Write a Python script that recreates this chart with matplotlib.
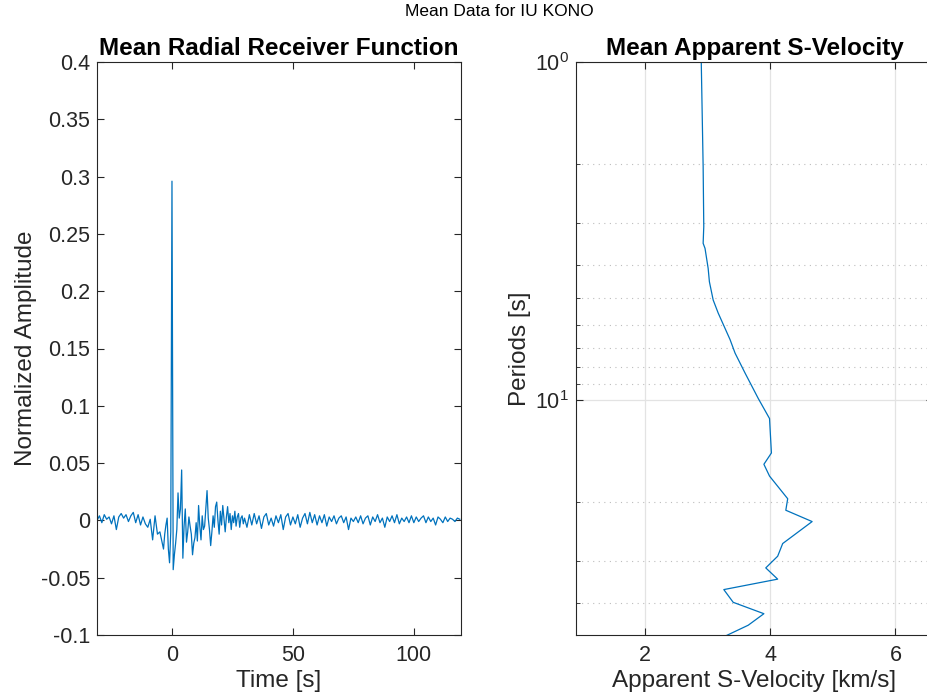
import numpy as np
import matplotlib
matplotlib.use("Agg")
import matplotlib.pyplot as plt
from matplotlib.ticker import LogLocator, NullFormatter

plt.rcParams['font.family'] = ['Liberation Sans', 'DejaVu Sans']
plt.rcParams['axes.unicode_minus'] = False

# ── data: mean radial receiver function ─────────────────────────────────────
# before the direct P (1 s samples)
rf_time_pre = np.arange(-31, -5, 1.0)
rf_amp_pre = [0.000, 0.004, -0.002, 0.005, 0.001, 0.003, -0.003, 0.004, -0.008, 0.003,
              0.006, 0.002, 0.005, -0.001, 0.004, 0.007, -0.002, 0.005, -0.004, 0.003,
              -0.003, -0.006, 0.001, -0.017, 0.004, -0.012]

# direct P and early coda (0.5 s samples)
rf_time_main = np.arange(-5, 30.5, 0.5)
rf_amp_main = [-0.010, -0.015, -0.020, -0.025, -0.012, -0.004, 0.002, -0.025, -0.037, -0.010,
               0.296, -0.043, -0.030, -0.020, -0.008, 0.024, 0.002, 0.010, 0.044, -0.033,
               -0.005, 0.010, -0.019, -0.010, 0.003, -0.005, -0.012, -0.030, -0.020, -0.015,
               -0.002, -0.018, 0.013, -0.005, -0.017, 0.004, -0.008, -0.005, 0.010, 0.026,
               0.002, -0.008, -0.022, -0.010, 0.004, -0.006, 0.012, 0.016, 0.000, -0.012,
               0.008, -0.004, 0.013, 0.002, -0.010, 0.003, 0.012, -0.002, 0.006, -0.008,
               0.004, -0.002, 0.008, -0.005, 0.003, 0.006, -0.006, 0.002, 0.004, -0.003,
               0.002]

# late coda (1 s samples)
rf_time_tail = np.arange(31, 120, 1.0)
rf_amp_tail = [-0.006, 0.005, -0.004, 0.006, -0.003, 0.004, -0.007, 0.003, 0.006, -0.004,
               0.002, -0.005, 0.004, -0.002, 0.005, -0.008, 0.003, 0.006, -0.004, 0.003,
               -0.003, 0.005, -0.006, 0.002, 0.006, -0.003, 0.007, -0.002, 0.005, -0.004,
               0.004, -0.002, 0.005, -0.005, 0.003, -0.001, 0.004, -0.003, 0.002, 0.004,
               -0.002, 0.003, -0.008, 0.002, -0.001, 0.003, -0.002, 0.004, -0.003, 0.002,
               0.004, -0.004, 0.003, -0.001, 0.005, -0.002, 0.002, -0.006, 0.003, -0.001,
               0.004, -0.002, 0.005, -0.003, 0.002, -0.001, 0.003, -0.002, 0.004, -0.002,
               0.003, -0.001, 0.002, 0.004, -0.002, 0.003, -0.001, 0.002, -0.004, 0.003,
               0.001, -0.002, 0.003, -0.001, 0.002, 0.001, -0.001, 0.002, 0.001]

rf_time = np.concatenate([rf_time_pre, rf_time_main, rf_time_tail])
rf_amp = np.concatenate([rf_amp_pre, rf_amp_main, rf_amp_tail])

# ── data: mean apparent S-velocity ──────────────────────────────────────────
periods = [1.0, 2.04, 3.07, 3.44, 3.56, 4.08, 4.47, 5.06, 5.53, 6.63, 7.27, 8.33, 9.9,
           11.35, 14.35, 15.5, 16.8, 19.6, 21.2, 22.9, 26.6, 29.0, 31.4, 33.9, 36.4,
           39.7, 42.9, 46.4, 49.8]
vs_app = [2.90, 2.93, 2.94, 2.93, 2.96, 3.01, 3.03, 3.09, 3.17, 3.36, 3.44, 3.60, 3.81,
          3.99, 4.02, 3.90, 3.99, 4.28, 4.25, 4.67, 4.20, 4.12, 3.93, 4.12, 3.26,
          3.41, 3.90, 3.65, 3.30]

rf_yticks = [-0.1, -0.05, 0, 0.05, 0.1, 0.15, 0.2, 0.25, 0.3, 0.35, 0.4]

# ── figure ──────────────────────────────────────────────────────────────────
W, H = 927, 695
fig = plt.figure(figsize=(W / 100, H / 100), dpi=100)
ax_c = '#262626'
line_c = '#0072BD'
tick_fs = 15.5
label_fs = 17.5
title_fs = 17.5

def place(x0, x1, y0, y1):
    return [x0 / W, 1 - y1 / H, (x1 - x0) / W, (y1 - y0) / H]

ax1 = fig.add_axes(place(97, 461, 62, 635))
ax2 = fig.add_axes(place(576, 933, 62, 635))

# left: receiver function
ax1.plot(rf_time, rf_amp, color=line_c, linewidth=0.9)
ax1.set_xlim(-31, 119.5)
ax1.set_ylim(-0.1, 0.4)
ax1.set_xticks([0, 50, 100])
ax1.set_yticks(rf_yticks)
ax1.set_yticklabels(['%g' % v for v in rf_yticks])
ax1.set_xlabel("Time [s]", fontsize=label_fs, color=ax_c, labelpad=3)
ax1.set_ylabel("Normalized Amplitude", fontsize=label_fs, color=ax_c, labelpad=3)
ax1.set_title("Mean Radial Receiver Function", fontsize=title_fs, fontweight='bold', pad=5)

# right: apparent S-velocity
ax2.plot(vs_app, periods, color=line_c, linewidth=0.9)
ax2.set_yscale('log')
ax2.set_ylim(49.6, 1)
ax2.set_xlim(0.9, 6.6)
ax2.set_xticks([2, 4, 6])
ax2.yaxis.set_major_locator(LogLocator(base=10, numticks=5))
ax2.yaxis.set_minor_locator(LogLocator(base=10, subs=np.arange(2, 10), numticks=10))
ax2.yaxis.set_minor_formatter(NullFormatter())
ax2.grid(True, which='major', color='#e3e3e3', linewidth=0.9, linestyle='-')
ax2.grid(True, which='minor', axis='y', color='#bdbdbd', linewidth=0.8, linestyle=(0, (1, 4)))
ax2.set_axisbelow(True)
ax2.set_xlabel("Apparent S-Velocity [km/s]", fontsize=label_fs, color=ax_c, labelpad=3)
ax2.set_ylabel("Periods [s]", fontsize=label_fs, color=ax_c, labelpad=3)
ax2.set_title("Mean Apparent S-Velocity", fontsize=title_fs, fontweight='bold', pad=5)
ax2.spines['right'].set_visible(False)

for ax in (ax1, ax2):
    ax.tick_params(which='both', direction='in', top=True, right=True,
                   labelsize=tick_fs, colors=ax_c, labelcolor=ax_c)
    ax.tick_params(which='major', length=5, width=0.8)
    ax.tick_params(axis='x', pad=7)
    ax.tick_params(axis='y', pad=5)
    ax.tick_params(which='minor', length=3, width=0.6)
    for s in ax.spines.values():
        s.set_color(ax_c)
        s.set_linewidth(0.8)

fig.text(499 / W, 1 - 12 / H, "Mean Data for IU KONO", ha='center', va='center',
         fontsize=12.5, color='black')

fig.savefig("out.png", dpi=100)
